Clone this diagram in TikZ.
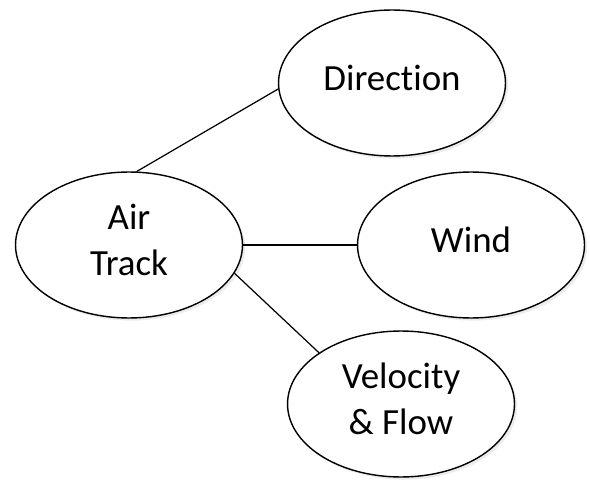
\documentclass[tikz,border=0pt]{standalone}
\usepackage{fontspec}
\setmainfont[Ligatures=NoCommon]{Carlito}
\usetikzlibrary{shapes.geometric,shadows}
\begin{document}
\begin{tikzpicture}[x=0.02cm, y=0.02cm]
\tikzstyle{every node}+=[inner sep=0pt]
\tikzstyle{bubble}=[draw=black, fill=white, line width=0.8pt, ellipse, minimum width=4.54cm, minimum height=2.92cm, align=center, text depth=0.2cm, font=\fontsize{21}{26}\selectfont, drop shadow={opacity=0.15, shadow xshift=1.5pt, shadow yshift=-1.5pt}]
\useasboundingbox (0,0) rectangle (590,-479);
\node [bubble] (dir) at (392,-83) {Direction};
\node [bubble] (air) at (129,-245) {Air\\Track};
\node [bubble] (wind) at (471,-245) {Wind};
\node [bubble] (vel) at (401,-404) {Velocity\\\& Flow};
\draw [black, line width=0.7pt] (air.84) -- (dir.183);
\draw [black, line width=0.7pt] (air.east) -- (wind.west);
\draw [black, line width=0.7pt] (air.-15) -- (vel.148);
\end{tikzpicture}
\end{document}
